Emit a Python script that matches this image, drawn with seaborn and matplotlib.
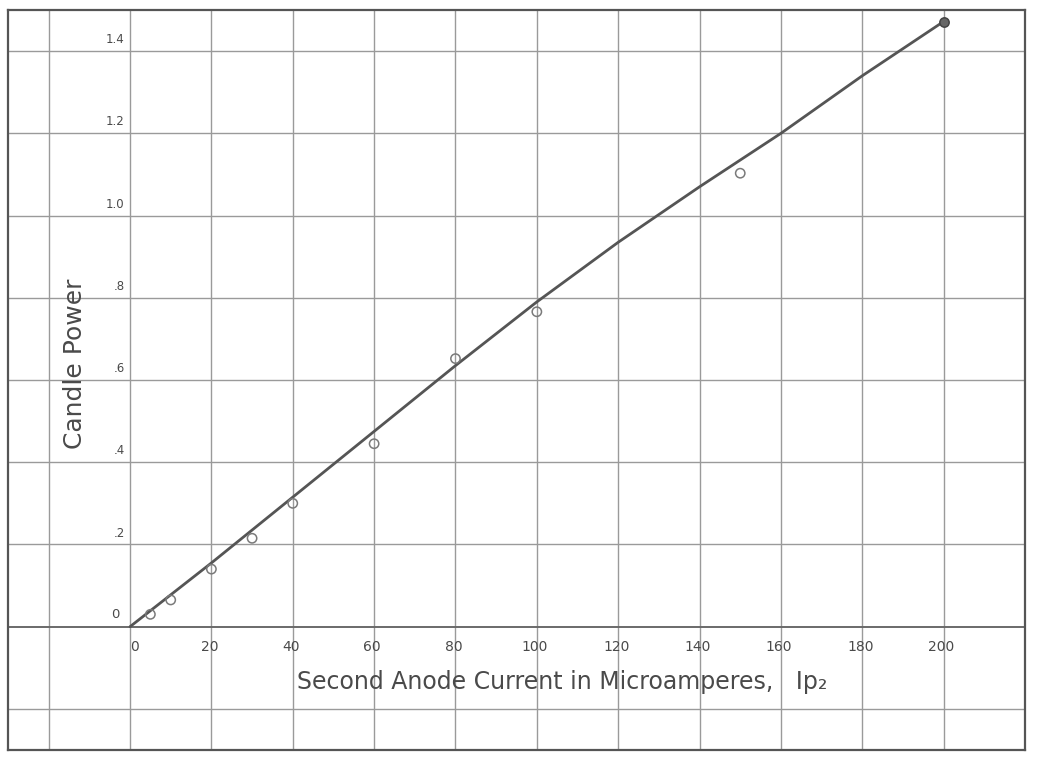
import matplotlib
matplotlib.use("Agg")
import matplotlib.pyplot as plt
import seaborn as sns
import pandas as pd
import numpy as np

# ---- data ----
current_pts = [5, 10, 20, 30, 40, 60, 80, 100, 150, 200]
candle_pts = [0.03, 0.065, 0.14, 0.215, 0.30, 0.445, 0.652, 0.766, 1.103, 1.472]

line_x = [0, 20, 40, 60, 80, 100, 120, 140, 160, 180, 200]
line_y = [0.0, 0.155, 0.315, 0.475, 0.635, 0.79, 0.935, 1.07, 1.20, 1.34, 1.472]

x_ticks = [0, 20, 40, 60, 80, 100, 120, 140, 160, 180, 200]
y_ticks = [0.2, 0.4, 0.6, 0.8, 1.0, 1.2, 1.4]
y_tick_labels = [".2", ".4", ".6", ".8", "1.0", "1.2", "1.4"]

x_title = "Second Anode Current in Microamperes,   Ip\u2082"
y_title = "Candle Power"

sns.set_style("white")
plt.rcParams["font.family"] = ["DejaVu Sans"]

fig = plt.figure(figsize=(10.45, 7.6), dpi=100)
fig.patch.set_facecolor("white")
ax = fig.add_axes([8 / 1045, 10 / 760, 1017 / 1045, 740 / 760])
ax.set_xlim(-30, 220)
ax.set_ylim(-0.3, 1.5)

grid_col = "#9a9a9a"
for gx in [-20] + x_ticks:
    ax.axvline(gx, color=grid_col, lw=1.0, zorder=1)
for gy in [-0.2, 0.0] + y_ticks:
    ax.axhline(gy, color=grid_col if gy != 0 else "#6a6a6a", lw=1.0 if gy != 0 else 1.4, zorder=1)

for s in ax.spines.values():
    s.set_color("#555555")
    s.set_linewidth(1.6)
ax.set_xticks([])
ax.set_yticks([])

df_line = pd.DataFrame({"x": line_x, "y": line_y})
sns.lineplot(data=df_line, x="x", y="y", ax=ax, color="#555555", lw=2.0, zorder=3)

df_pts = pd.DataFrame({"x": current_pts, "y": candle_pts})
sns.scatterplot(data=df_pts.iloc[:-1], x="x", y="y", ax=ax, s=45, marker="o",
                facecolor="none", edgecolor="#7a7a7a", linewidth=1.1, zorder=4)
sns.scatterplot(data=df_pts.iloc[-1:], x="x", y="y", ax=ax, s=45, marker="o",
                color="#666666", edgecolor="#444444", linewidth=1.1, zorder=4)
ax.set_xlabel("")
ax.set_ylabel("")

txt_col = "#4a4a4a"
for v, lab in zip(y_ticks, y_tick_labels):
    ax.text(-1.3, v + 0.012, lab, ha="right", va="bottom", fontsize=8.5, color=txt_col)
ax.text(-2.5, 0.015, "0", ha="right", va="bottom", fontsize=9.5, color=txt_col)
for v in x_ticks:
    xx = v + 1.2 if v == 0 else v - 0.5
    ax.text(xx, -0.05, str(v), ha="center", va="center", fontsize=10, color=txt_col)

ax.text(41, -0.134, x_title, ha="left", va="center", fontsize=17, color=txt_col)
ax.text(-13.5, 0.64, y_title, ha="center", va="center", rotation=90, fontsize=18, color=txt_col)

fig.savefig("out.png", dpi=100, facecolor="white")
